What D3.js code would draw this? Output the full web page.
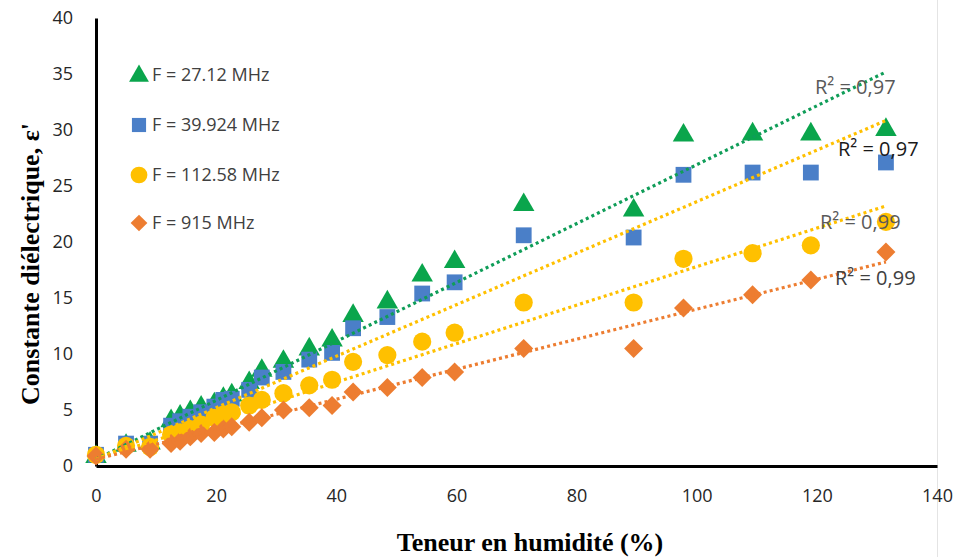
<!DOCTYPE html>
<html><head><meta charset="utf-8">
<script src="https://cdn.jsdelivr.net/npm/d3@7"></script>
<style>body{margin:0;background:#fff}svg{display:block}</style>
</head><body><svg id="c" width="965" height="557"></svg>
<script>
const moisture = [0, 5, 9, 12.5, 14, 15.7, 17.5, 19.7, 21.2, 22.6, 25.5, 27.6, 31.2, 35.5, 39.3, 42.8, 48.5, 54.3, 59.7, 71.2, 89.5, 97.8, 109.3, 119, 131.5];
const f27 = [1.0, 2.0, 2.2, 4.2, 4.6, 5.0, 5.4, 5.7, 6.2, 6.5, 7.6, 8.7, 9.5, 10.6, 11.4, 13.6, 14.8, 17.2, 18.4, 23.5, 23.0, 29.7, 29.8, 29.8, 30.2];
const f39 = [1.0, 2.0, 2.0, 3.6, 4.0, 4.4, 4.8, 5.3, 5.9, 6.0, 6.8, 7.9, 8.4, 9.5, 10.1, 12.3, 13.3, 15.4, 16.4, 20.6, 20.4, 26.0, 26.2, 26.2, 27.1];
const f112 = [1.0, 1.8, 1.7, 2.8, 3.0, 3.3, 3.7, 4.3, 4.6, 4.8, 5.4, 5.9, 6.5, 7.2, 7.7, 9.3, 9.9, 11.1, 11.9, 14.6, 14.6, 18.5, 19.0, 19.7, 21.8];
const f915 = [0.9, 1.5, 1.5, 2.0, 2.2, 2.6, 2.9, 3.0, 3.3, 3.5, 3.9, 4.3, 5.0, 5.2, 5.4, 6.6, 7.0, 7.9, 8.4, 10.5, 10.5, 14.1, 15.3, 16.6, 19.1];
const seriesNames = ["F = 27.12 MHz", "F = 39.924 MHz", "F = 112.58 MHz", "F = 915 MHz"];
const trendSlope = [0.263, 0.230, 0.172, 0.134];
const trendIntercept = [0.6, 0.6, 0.6, 0.6];
const r2Labels = ["R² = 0,97", "R² = 0,97", "R² = 0,99", "R² = 0,99"];
const xTicks = [0, 20, 40, 60, 80, 100, 120, 140];
const yTicks = [0, 5, 10, 15, 20, 25, 30, 35, 40];

const colors = ["#0aa54c", "#4a7fc8", "#ffc000", "#ed7d31"];
const trendColors = ["#0f9d58", "#ffc000", "#ffc000", "#ed7d31"];
const symbols = [d3.symbolTriangle, d3.symbolSquare, d3.symbolCircle, d3.symbolSquare];
const symRot = [0, 0, 0, 45];
const symSizes = [200, 250, 260, 180];
const values = [f27, f39, f112, f915];

const svg = d3.select("#c");
const x = d3.scaleLinear().domain([0, 140]).range([96, 937]);
const y = d3.scaleLinear().domain([0, 40]).range([466, 18]);

svg.append("line").attr("x1", 937.5).attr("x2", 937.5).attr("y1", 0).attr("y2", 557)
  .attr("stroke", "#e4e4e4").attr("stroke-width", 1);

const xAxis = svg.append("g").attr("transform", `translate(0,${y(0)})`)
  .call(d3.axisBottom(x).tickValues(xTicks).tickSize(0).tickPadding(23));
const yAxis = svg.append("g").attr("transform", `translate(${x(0)},0)`)
  .call(d3.axisLeft(y).tickValues(yTicks).tickSize(0).tickPadding(23));
[xAxis, yAxis].forEach(g => {
  g.select(".domain").attr("stroke", "#000").attr("stroke-width", 3);
  g.selectAll("text").attr("font-family", "'Open Sans', sans-serif").attr("font-size", 18).attr("fill", "#262626");
});

const sym = d3.symbol();
values.forEach((vals, i) => {
  svg.append("g").selectAll("path").data(moisture.map((m, j) => [m, vals[j]]))
    .join("path")
    .attr("transform", d => `translate(${x(d[0])},${y(d[1]) + (i === 0 ? 2 : 0)}) rotate(${symRot[i]})`)
    .attr("d", sym.type(symbols[i]).size(symSizes[i]))
    .attr("fill", colors[i]);
});

values.forEach((vals, i) => {
  const x0 = d3.min(moisture), x1 = d3.max(moisture);
  svg.append("line")
    .attr("x1", x(x0)).attr("y1", y(trendIntercept[i] + trendSlope[i] * x0))
    .attr("x2", x(x1)).attr("y2", y(trendIntercept[i] + trendSlope[i] * x1))
    .attr("stroke", trendColors[i]).attr("stroke-width", 3.2)
    .attr("stroke-dasharray", "3,3.2");
});

const r2Pos = [[815, 94], [838, 156], [820, 229], [835, 285]];
const r2Col = ["#595959", "#1a1a1a", "#595959", "#404040"];
r2Labels.forEach((t, i) => {
  svg.append("text").attr("x", r2Pos[i][0]).attr("y", r2Pos[i][1]).text(t)
    .attr("font-family", "'Open Sans', sans-serif").attr("font-size", 20).attr("fill", r2Col[i]);
});

const legY = [75, 125, 175, 223];
seriesNames.forEach((n, i) => {
  svg.append("path").attr("transform", `translate(139,${legY[i] + (i === 0 ? 1 : 0)}) rotate(${symRot[i]})`)
    .attr("d", sym.type(symbols[i]).size([170, 200, 220, 140][i])).attr("fill", colors[i]);
  svg.append("text").attr("x", 152).attr("y", legY[i] + 6).text(n)
    .attr("font-family", "'Open Sans', sans-serif").attr("font-size", 18).attr("fill", "#404040");
});

svg.append("text").attr("x", 530).attr("y", 551).attr("text-anchor", "middle")
  .attr("font-family", "'Liberation Serif', serif").attr("font-weight", "bold").attr("font-size", 26)
  .text("Teneur en humidité (%)");
svg.append("text").attr("transform", "translate(39,264) rotate(-90)").attr("text-anchor", "middle")
  .attr("font-family", "'Liberation Serif', serif").attr("font-weight", "bold").attr("font-size", 26)
  .text("Constante diélectrique, ε'");
</script></body></html>
